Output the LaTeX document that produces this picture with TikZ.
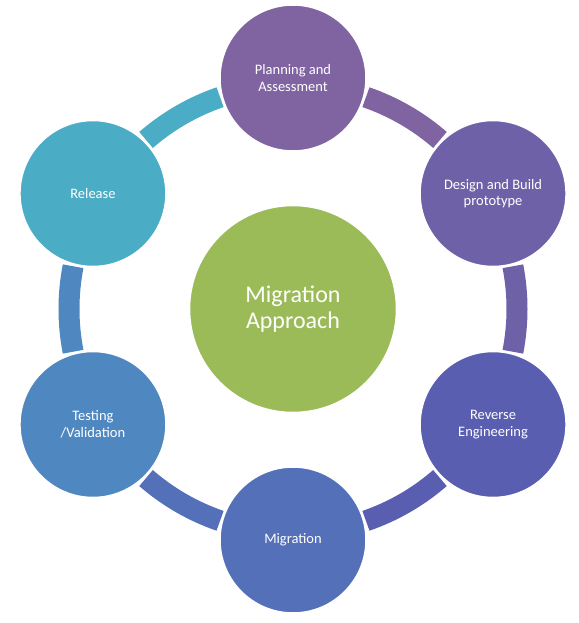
\documentclass[tikz,border=0pt]{standalone}
\usepackage{fontspec}
\setmainfont{Carlito}
\definecolor{plancol}{HTML}{8064A2}
\definecolor{designcol}{HTML}{6F61A8}
\definecolor{reversecol}{HTML}{5A5EB0}
\definecolor{migcol}{HTML}{5470B8}
\definecolor{testcol}{HTML}{4F88C0}
\definecolor{releasecol}{HTML}{4BACC6}
\definecolor{hubcol}{HTML}{9BBB59}
\begin{document}
\begin{tikzpicture}[stage/.style={circle,draw=white,line width=1.5pt,minimum size=146pt,inner sep=0pt,text=white,align=center,font=\fontsize{14.5}{16.5}\selectfont},band/.style={line width=21pt}]
\useasboundingbox (-293pt,-314pt) rectangle (285pt,309pt);
\draw[band,releasecol] (131:224pt) arc[start angle=131,end angle=109,radius=224pt];
\draw[band,plancol] (71:224pt) arc[start angle=71,end angle=49,radius=224pt];
\draw[band,designcol] (11:224pt) arc[start angle=11,end angle=-11,radius=224pt];
\draw[band,reversecol] (-49:224pt) arc[start angle=-49,end angle=-71,radius=224pt];
\draw[band,migcol] (-109:224pt) arc[start angle=-109,end angle=-131,radius=224pt];
\draw[band,testcol] (191:224pt) arc[start angle=191,end angle=169,radius=224pt];
\node[circle,draw=white,line width=1.5pt,fill=hubcol,minimum size=207pt,inner sep=0pt,text=white,align=center,font=\fontsize{24}{26.5}\selectfont] (hub) at (0,0) {Migration\\Approach};
\node[stage,fill=plancol] (plan) at (90:231pt) {Planning and\\Assessment};
\node[stage,fill=designcol] (design) at (30:231pt) {Design and Build\\prototype};
\node[stage,fill=reversecol] (reverse) at (-30:231pt) {Reverse\\Engineering};
\node[stage,fill=migcol] (migration) at (-90:231pt) {Migration};
\node[stage,fill=testcol] (testing) at (-150:231pt) {Testing\\/Validation};
\node[stage,fill=releasecol] (release) at (150:231pt) {Release};
\end{tikzpicture}
\end{document}
